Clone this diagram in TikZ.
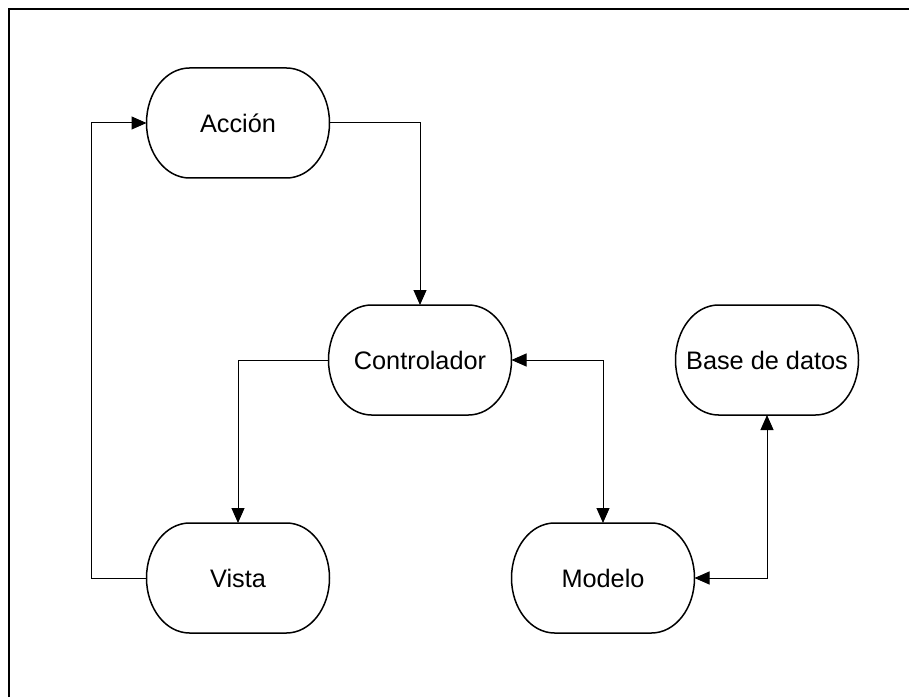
\documentclass[tikz,border=0pt]{standalone}
\usepackage{fontspec}
\setmainfont{Liberation Sans}
\usetikzlibrary{arrows.meta}
\tikzset{
  stage/.style={inner sep=0pt,outer sep=0pt,minimum width=183pt,minimum height=110pt,
    font=\fontsize{25.3}{30}\selectfont},
  outline/.style={line width=1.5pt},
  link/.style={line width=1pt,>={Triangle[length=15pt,width=13pt]}}
}
\begin{document}
\begin{tikzpicture}[x=1pt,y=1pt]
  \useasboundingbox (0,0) rectangle (909,697);
  \draw[line width=2.5pt] (9,0) -- (9,688) -- (909,688);

  \node[stage] (accion)      at (238,574) {Acción};
  \node[stage] (controlador) at (420,337) {Controlador};
  \node[stage] (vista)       at (238,119) {Vista};
  \node[stage] (modelo)      at (603,119) {Modelo};
  \node[stage] (base)        at (767,337) {Base de datos};

  \foreach \n in {accion,controlador,vista,modelo,base}
    \draw[outline] ([xshift=43pt]\n.north west) -- ([xshift=-43pt]\n.north east)
      arc[start angle=90,end angle=-90,x radius=43pt,y radius=55pt]
      -- ([xshift=43pt]\n.south west)
      arc[start angle=270,end angle=90,x radius=43pt,y radius=55pt] -- cycle;

  \draw[link,->]  (accion) -| (controlador);
  \draw[link,->]  (controlador) -| (vista);
  \draw[link,->]  (vista.west) -- ++(-55,0) |- (accion.west);
  \draw[link,<->] (controlador) -| (modelo);
  \draw[link,<->] (modelo) -| (base);
\end{tikzpicture}
\end{document}
